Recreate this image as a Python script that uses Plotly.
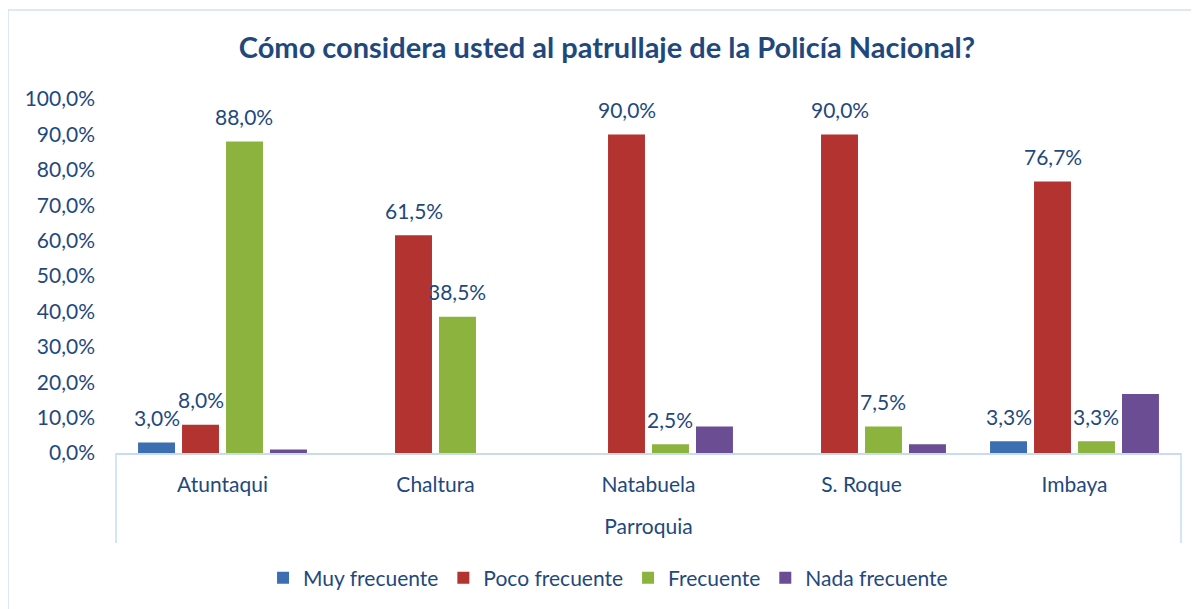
import plotly.graph_objects as go

parroquias = ["Atuntaqui", "Chaltura", "Natabuela", "S. Roque", "Imbaya"]

muy_frecuente = [3.0, 0.0, 0.0, 0.0, 3.3]
poco_frecuente = [8.0, 61.5, 90.0, 90.0, 76.7]
frecuente = [88.0, 38.5, 2.5, 7.5, 3.3]
nada_frecuente = [1.0, 0.0, 7.5, 2.5, 16.7]

# which bars carry a data label in the original chart
muy_labeled = [True, False, False, False, True]
poco_labeled = [True, True, True, True, True]
frec_labeled = [True, True, True, True, True]
nada_labeled = [False, False, False, False, False]

TEXT_BLUE = "#1F497D"
FONT = "Lato"
FS = 21
BARGAP = 0.174
BARGROUPGAP = 0.16

series = [
    ("Muy frecuente", muy_frecuente, muy_labeled, "#3c6fb2"),
    ("Poco frecuente", poco_frecuente, poco_labeled, "#b23330"),
    ("Frecuente", frecuente, frec_labeled, "#8db33f"),
    ("Nada frecuente", nada_frecuente, nada_labeled, "#6b4d93"),
]


def fmt(v):
    return f"{v:.1f}".replace(".", ",") + "%"


fig = go.Figure()
annotations = []
slot = (1 - BARGAP) / len(series)
for k, (name, values, labeled, color) in enumerate(series):
    fig.add_trace(go.Bar(
        name=name,
        x=parroquias,
        y=values,
        marker=dict(color=color, line=dict(width=0)),
        hoverinfo="x+y+name",
    ))
    # data labels sit a little above the bar top, like the Excel original
    for i, (v, flag) in enumerate(zip(values, labeled)):
        if not flag:
            continue
        annotations.append(dict(
            x=i + (k - (len(series) - 1) / 2) * slot, y=v, xref="x", yref="y",
            text=fmt(v), showarrow=False, yanchor="middle", yshift=25,
            font=dict(size=FS, color=TEXT_BLUE, family=FONT),
        ))

box_color = "#c9dcef"
fig.update_layout(
    width=1199,
    height=609,
    separators=", ",
    paper_bgcolor="white",
    plot_bgcolor="white",
    font=dict(family=FONT, size=FS, color=TEXT_BLUE),
    margin=dict(l=108, r=26, t=91, b=164),
    barmode="group",
    bargap=BARGAP,
    bargroupgap=BARGROUPGAP,
    title=dict(
        text="<b>Cómo considera usted al patrullaje de la Policía Nacional?</b>",
        x=599 / 1199, xref="container", xanchor="center",
        y=1 - 40 / 609, yref="container", yanchor="middle",
        font=dict(size=29, color=TEXT_BLUE, family=FONT),
    ),
    legend=dict(
        orientation="h",
        x=0.462, xanchor="center",
        y=-125 / 354, yanchor="middle",
        font=dict(size=FS, color=TEXT_BLUE),
        itemwidth=30,
    ),
    showlegend=True,
    annotations=annotations,
    shapes=[
        dict(type="line", xref="paper", yref="paper", x0=0, x1=0, y0=0, y1=-90 / 354,
             line=dict(color=box_color, width=1.5)),
        dict(type="line", xref="paper", yref="paper", x0=1, x1=1, y0=0, y1=-90 / 354,
             line=dict(color=box_color, width=1.5)),
        dict(type="rect", xref="paper", yref="paper", x0=-108 / 1065, x1=1.05,
             y0=-0.6, y1=1 + 89 / 354, line=dict(color="#d5e2f0", width=1.5)),
    ],
)
fig.update_xaxes(
    showline=True, linecolor=box_color, linewidth=1.5,
    showgrid=False, ticks="", ticklabelstandoff=12,
    tickfont=dict(size=FS, color=TEXT_BLUE),
    title=dict(text="Parroquia", standoff=24, font=dict(size=FS, color=TEXT_BLUE)),
)
fig.update_yaxes(
    range=[0, 100], dtick=10, tickformat=".1f", ticksuffix="%",
    showgrid=False, zeroline=False, showline=False, ticklabelstandoff=20,
    tickfont=dict(size=FS, color=TEXT_BLUE),
)

fig.write_html("out.html")
